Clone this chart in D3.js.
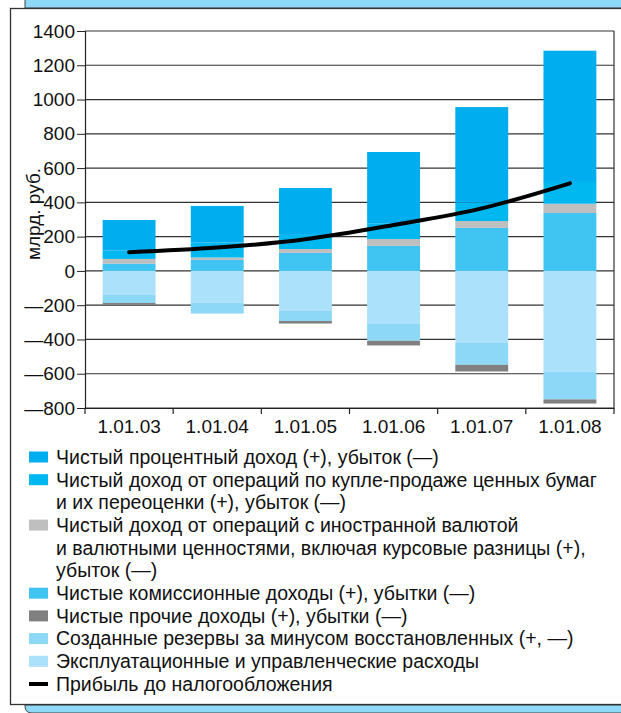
<!DOCTYPE html>
<html>
<head>
<meta charset="utf-8">
<script src="https://cdn.jsdelivr.net/npm/d3@7"></script>
<style>
  body { margin: 0; background: #fff; }
  svg { display: block; font-family: "Liberation Sans", Arial, sans-serif; }
</style>
</head>
<body>
<svg id="chart" width="621" height="713"></svg>
<script>
// данные, млрд. руб.
var categories = ["1.01.03", "1.01.04", "1.01.05", "1.01.06", "1.01.07", "1.01.08"];
var interest   = [179, 214, 274, 416, 558, 766];   // чистый процентный доход
var securities = [48, 87, 82, 92, 107, 127];       // ценные бумаги
var fx         = [27, 14, 23, 40, 40, 54];         // валюта
var commission = [43, 64, 105, 146, 251, 338];     // комиссионные
var other      = [-11, 0, -15, -27, -39, -24];     // прочие
var reserves   = [-47, -64, -59, -99, -128, -163]; // резервы
var operating  = [-140, -185, -233, -309, -420, -587]; // эксплуатационные расходы
var profit     = [109, 136, 185, 268, 365, 511];   // прибыль до налогообложения
var yTicks = [-800, -600, -400, -200, 0, 200, 400, 600, 800, 1000, 1200, 1400];

var keys = ["commission", "fx", "securities", "interest", "operating", "reserves", "other"];
var colors = {
    interest: "#00aeef",
    securities: "#00b8f0",
    fx: "#bfbfbf",
    commission: "#40c5f3",
    other: "#808080",
    reserves: "#8dd8f6",
    operating: "#abe1fa"
};
var legendItems = [
    {key: "interest", lines: ["Чистый процентный доход (+), убыток (—)"]},
    {key: "securities", lines: ["Чистый доход от операций по купле-продаже ценных бумаг", "и их переоценки (+), убыток (—)"]},
    {key: "fx", lines: ["Чистый доход от операций с иностранной валютой", "и валютными ценностями, включая курсовые разницы (+),", "убыток (—)"]},
    {key: "commission", lines: ["Чистые комиссионные доходы (+), убытки (—)"]},
    {key: "other", lines: ["Чистые прочие доходы (+), убытки (—)"]},
    {key: "reserves", lines: ["Созданные резервы за минусом восстановленных (+, —)"]},
    {key: "operating", lines: ["Эксплуатационные и управленческие расходы"]},
    {key: "profit", lines: ["Прибыль до налогообложения"], line: true}
];

var rows = categories.map(function(c, i) {
    return {cat: c, interest: interest[i], securities: securities[i], fx: fx[i],
        commission: commission[i], other: other[i], reserves: reserves[i], operating: operating[i]};
});

var svg = d3.select("#chart");

// рамка
svg.append("rect").attr("x", 25).attr("y", -5).attr("width", 610).attr("height", 13)
    .attr("fill", "#8ed8f8").attr("stroke", "#444").attr("stroke-width", 1);
svg.append("path").attr("d", "M25,705 L25,706 Q25,713 32,713 L640,713 L640,705 Z")
    .attr("fill", "#8ed8f8").attr("stroke", "#444").attr("stroke-width", 1);
svg.append("rect").attr("x", 10.5).attr("y", 8.5).attr("width", 630).attr("height", 696)
    .attr("fill", "#fff").attr("stroke", "#333").attr("stroke-width", 1.3);

var margin = {left: 85, top: 31, right: 614, bottom: 408};

var x = d3.scaleBand().domain(categories)
    .range([margin.left, margin.right]).paddingInner(0.4).paddingOuter(0.2);
var y = d3.scaleLinear().domain([-800, 1400]).range([margin.bottom, margin.top]);

var g = svg.append("g");

// сетка
g.selectAll(".grid").data(yTicks).enter().append("line")
    .attr("x1", margin.left).attr("x2", margin.right)
    .attr("y1", function(d) { return y(d); }).attr("y2", function(d) { return y(d); })
    .attr("stroke", "#333").attr("stroke-width", 1.2);
g.append("line").attr("x1", margin.right).attr("x2", margin.right)
    .attr("y1", margin.top).attr("y2", margin.bottom)
    .attr("stroke", "#333").attr("stroke-width", 1.2);

var stack = d3.stack().keys(keys).offset(d3.stackOffsetDiverging);
var layers = stack(rows);

g.selectAll(".layer").data(layers).enter().append("g")
    .attr("class", "layer")
    .attr("fill", function(d) { return colors[d.key]; })
    .selectAll("rect").data(function(d) { return d; }).enter().append("rect")
    .attr("x", function(d) { return x(d.data.cat); })
    .attr("width", x.bandwidth())
    .attr("y", function(d) { return y(Math.max(d[0], d[1])); })
    .attr("height", function(d) { return Math.abs(y(d[0]) - y(d[1])); });

// линия прибыли
var line = d3.line()
    .x(function(d, i) { return x(categories[i]) + x.bandwidth() / 2; })
    .y(function(d) { return y(d); })
    .curve(d3.curveMonotoneX);
g.append("path").datum(profit).attr("d", line)
    .attr("fill", "none").attr("stroke", "#000").attr("stroke-width", 4).attr("stroke-linecap", "round");

// оси
var yAxis = d3.axisLeft(y).tickValues(yTicks).tickSize(8).tickPadding(2)
    .tickFormat(function(d) { return d < 0 ? "—" + Math.abs(d) : d; });
var ya = g.append("g").attr("transform", "translate(" + margin.left + ",0)").call(yAxis);
ya.select(".domain").attr("stroke", "#222").attr("stroke-width", 1.2);
ya.selectAll(".tick line").attr("stroke", "#222");
ya.selectAll("text").attr("font-size", 19).attr("fill", "#111").attr("font-family", "Liberation Sans, Arial");

var xAxis = d3.axisBottom(x).tickSize(0).tickPadding(12);
var xa = g.append("g").attr("transform", "translate(0," + margin.bottom + ")").call(xAxis);
xa.select(".domain").attr("stroke", "#222").attr("stroke-width", 1.2);
xa.selectAll("text").attr("font-size", 19).attr("fill", "#111").attr("font-family", "Liberation Sans, Arial");
// засечки на границах категорий
var bounds = categories.map(function(c) { return x(c) - x.step() * x.paddingOuter(); })
    .concat([margin.right]);
g.selectAll(".btick").data(bounds).enter().append("line")
    .attr("x1", function(d) { return d; }).attr("x2", function(d) { return d; })
    .attr("y1", margin.bottom).attr("y2", margin.bottom + 6)
    .attr("stroke", "#222").attr("stroke-width", 1.2);

svg.append("text").attr("transform", "translate(40,214) rotate(-90)")
    .attr("text-anchor", "middle").attr("font-size", 19).attr("fill", "#111")
    .text("млрд. руб.");

// легенда
var ly = 457, step = 22.7;
var lg = svg.append("g");
legendItems.forEach(function(item) {
    if (item.line) {
        lg.append("line").attr("x1", 29).attr("x2", 48).attr("y1", ly).attr("y2", ly)
            .attr("stroke", "#000").attr("stroke-width", 4);
    } else {
        lg.append("rect").attr("x", 29).attr("y", ly - 5.5).attr("width", 19).attr("height", 11)
            .attr("fill", colors[item.key]);
    }
    item.lines.forEach(function(t) {
        lg.append("text").attr("x", 56).attr("y", ly).attr("dy", "0.35em")
            .attr("font-size", 19.5).attr("fill", "#111").text(t);
        ly += step;
    });
});
</script>
</body>
</html>
